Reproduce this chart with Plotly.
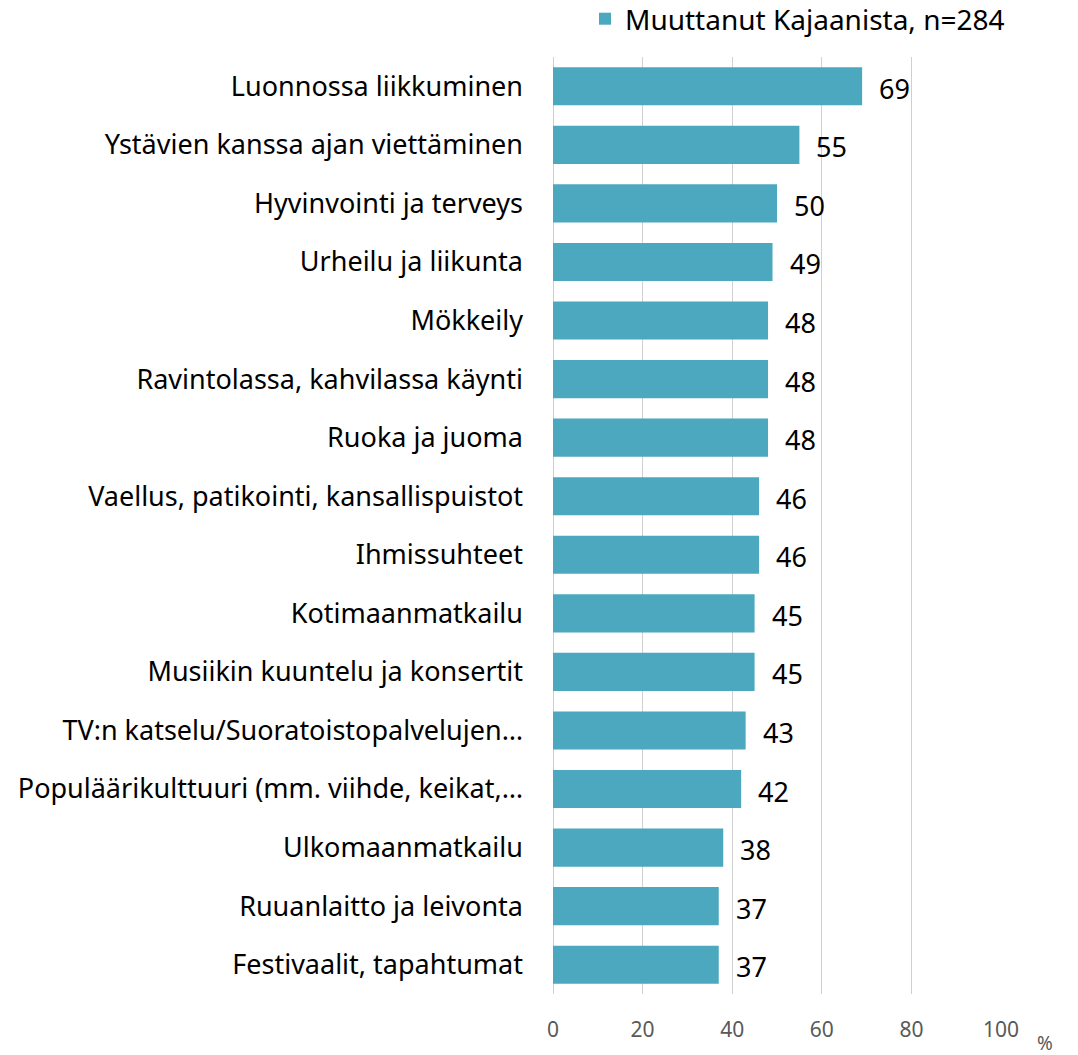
import plotly.graph_objects as go

categories = [
    "Luonnossa liikkuminen",
    "Ystävien kanssa ajan viettäminen",
    "Hyvinvointi ja terveys",
    "Urheilu ja liikunta",
    "Mökkeily",
    "Ravintolassa, kahvilassa käynti",
    "Ruoka ja juoma",
    "Vaellus, patikointi, kansallispuistot",
    "Ihmissuhteet",
    "Kotimaanmatkailu",
    "Musiikin kuuntelu ja konsertit",
    "TV:n katselu/Suoratoistopalvelujen…",
    "Populäärikulttuuri (mm. viihde, keikat,…",
    "Ulkomaanmatkailu",
    "Ruuanlaitto ja leivonta",
    "Festivaalit, tapahtumat",
]
values = [69, 55, 50, 49, 48, 48, 48, 46, 46, 45, 45, 43, 42, 38, 37, 37]
series_name = "Muuttanut Kajaanista, n=284"
x_ticks = [0, 20, 40, 60, 80, 100]

FONT = "Noto Sans"
BAR = "#4BA8BF"

fig = go.Figure()
fig.add_trace(go.Bar(
    y=categories, x=values, orientation="h", name=series_name,
    marker=dict(color=BAR, line=dict(width=0)), width=0.65,
))

for c, v in zip(categories, values):
    fig.add_annotation(x=v, y=c, text=str(v), xanchor="left", yanchor="middle",
                       xshift=15, yshift=-2, showarrow=False,
                       font=dict(family=FONT, size=27, color="#000000"))

fig.add_annotation(xref="paper", yref="paper", x=1.098, y=-0.052, text="%",
                   showarrow=False, xanchor="center", yanchor="middle",
                   font=dict(family=FONT, size=19, color="#595959"))

fig.update_layout(
    width=1078, height=1055,
    margin=dict(l=553, r=77, t=57, b=61, autoexpand=False),
    plot_bgcolor="white", paper_bgcolor="white",
    font=dict(family=FONT, color="#000000"),
    showlegend=True,
    legend=dict(xref="container", yref="container", x=585/1078, y=1 - 19/1055,
                xanchor="left", yanchor="middle",
                font=dict(family=FONT, size=28, color="#000000"),
                itemwidth=30, bgcolor="rgba(0,0,0,0)"),
    bargap=0.35,
)
fig.update_xaxes(range=[0, 100], tickvals=x_ticks, ticktext=[str(t) for t in x_ticks],
                 showgrid=True, gridcolor="#D0D0D0", gridwidth=1,
                 zeroline=True, zerolinecolor="#D0D0D0", zerolinewidth=1,
                 showline=False, ticks="", automargin=False,
                 tickfont=dict(family=FONT, size=21, color="#595959"),
                 ticklabelstandoff=21)
fig.update_yaxes(autorange="reversed", showgrid=False, showline=False, ticks="",
                 automargin=False,
                 tickfont=dict(family=FONT, size=27, color="#000000"),
                 ticklabelstandoff=29)

fig.write_html("out.html", config={"displayModeBar": False},
               post_script="document.body.style.margin='0';document.body.style.overflow='hidden';")
